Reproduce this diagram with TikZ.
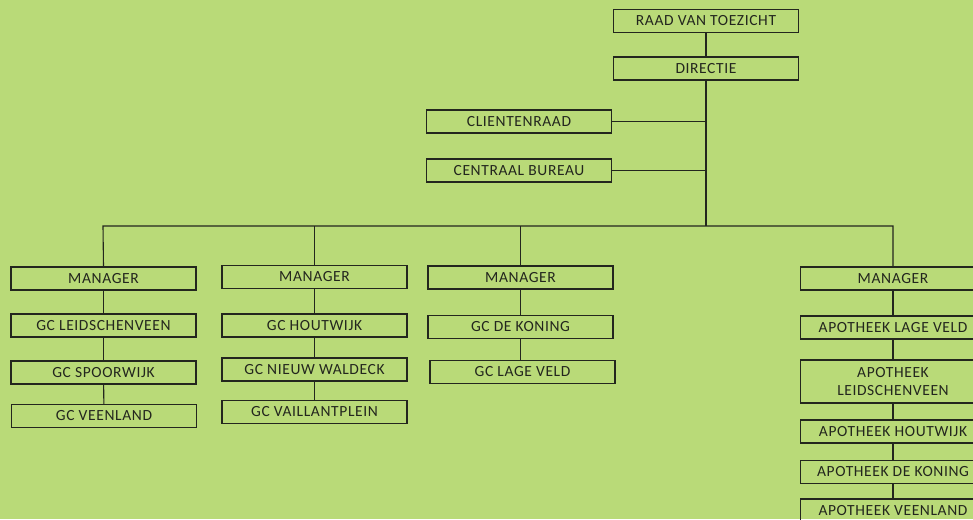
\documentclass[tikz,border=0pt]{standalone}
\usepackage{fontspec}
\setmainfont{Carlito}[LetterSpace=4]
\definecolor{bg}{RGB}{185,218,120}
\definecolor{ink}{RGB}{35,38,30}
\begin{document}
\begin{tikzpicture}[x=1pt,y=-1pt,
  box/.style={draw=ink,line width=1.1pt,minimum width=185pt,minimum height=23pt,inner sep=0pt,
    text=ink,font=\fontsize{15.5}{18}\selectfont,align=center},
  tallbox/.style={box,minimum height=43pt},
  conn/.style={draw=ink,line width=1.1pt}]
\clip (0,0) rectangle (973,519);
\fill[bg] (0,0) rectangle (973,519);
% top
\node[box] (raad) at (706,21) {RAAD VAN TOEZICHT};
\node[box] (dir) at (706,68.5) {DIRECTIE};
\node[box] (client) at (519,121.5) {CLIENTENRAAD};
\node[box] (cb) at (519,170.5) {CENTRAAL BUREAU};
\coordinate (bus) at (706,226);
\coordinate (busL) at (103,226);
\coordinate (busR) at (893,226);
% column 1
\node[box] (m1) at (103.5,278.5) {MANAGER};
\node[box] (a1) at (103.5,325.5) {GC LEIDSCHENVEEN};
\node[box] (a2) at (103.5,372.5) {GC SPOORWIJK};
\node[box] (a3) at (104,416) {GC VEENLAND};
% column 2
\node[box] (m2) at (314.5,277) {MANAGER};
\node[box] (b1) at (314.5,325.5) {GC HOUTWIJK};
\node[box] (b2) at (314.5,369.5) {GC NIEUW WALDECK};
\node[box] (b3) at (314.5,412) {GC VAILLANTPLEIN};
% column 3
\node[box] (m3) at (520.5,277.5) {MANAGER};
\node[box] (c1) at (520.5,327) {GC DE KONING};
\node[box] (c2) at (522.5,372) {GC LAGE VELD};
% column 4
\node[box] (m4) at (893,278.5) {MANAGER};
\node[box] (d1) at (893,327.5) {APOTHEEK LAGE VELD};
\node[tallbox] (d2) at (893,381.5) {APOTHEEK\\LEIDSCHENVEEN};
\node[box] (d3) at (893,431.5) {APOTHEEK HOUTWIJK};
\node[box] (d4) at (893,472) {APOTHEEK DE KONING};
\node[box] (d5) at (893,510.5) {APOTHEEK VEENLAND};
% connectors
\draw[conn] (raad) -- (dir);
\draw[conn] (dir) -- (bus);
\draw[conn] (client) -- (client -| bus);
\draw[conn] (cb) -- (cb -| bus);
\draw[conn] (m1.north) -- (busL) -- (busR) -- (m4.north);
\draw[conn] (m2.north) -- (m2.north |- bus);
\draw[conn] (m3.north) -- (m3.north |- bus);
\draw[conn] (m1) -- (a1);
\draw[conn] (a1) -- (a2);
\draw[conn] (a2) -- (a3);
\draw[conn] (m2) -- (b1);
\draw[conn] (b1) -- (b2);
\draw[conn] (b2) -- (b3);
\draw[conn] (m3) -- (c1);
\draw[conn] (c1.south) -- (c1.south |- c2.north);
\draw[conn] (m4) -- (d1);
\draw[conn] (d1) -- (d2);
\draw[conn] (d2) -- (d3);
\draw[conn] (d3) -- (d4);
\draw[conn] (d4) -- (d5);
\end{tikzpicture}
\end{document}
